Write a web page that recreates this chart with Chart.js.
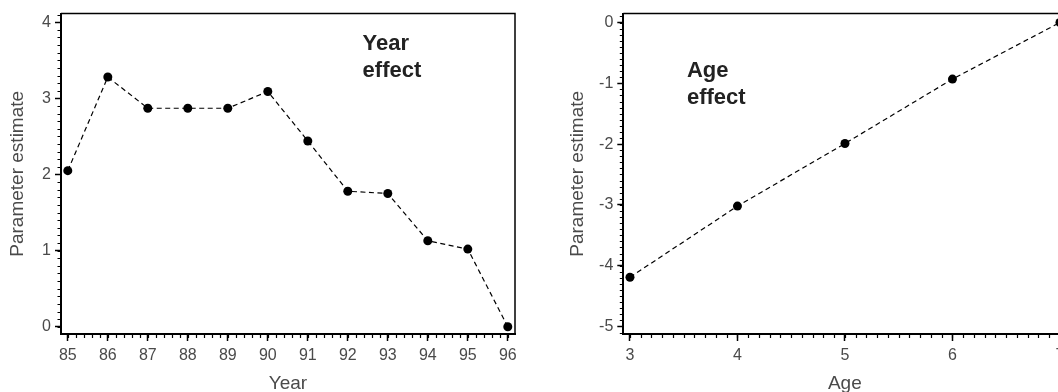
<!DOCTYPE html>
<html>
<head>
<meta charset="utf-8">
<script src="https://cdn.jsdelivr.net/npm/chart.js@4.4.0/dist/chart.umd.min.js"></script>
<style>
  html, body { margin: 0; padding: 0; background: #fff; overflow: hidden; }
  body { width: 1058px; height: 392px; position: relative; }
  #boxYear { position: absolute; left: 0; top: 0; width: 530px; height: 392px; }
  #boxAge { position: absolute; left: 560px; top: 0; width: 520px; height: 392px; }
</style>
</head>
<body>
<div id="boxYear"><canvas id="yearChart"></canvas></div>
<div id="boxAge"><canvas id="ageChart"></canvas></div>
<script>
// year effect panel
const years = [85, 86, 87, 88, 89, 90, 91, 92, 93, 94, 95, 96];
const yearEffect = [2.05, 3.28, 2.87, 2.87, 2.87, 3.09, 2.44, 1.78, 1.75, 1.13, 1.02, 0.0];
const yearTicksY = [0, 1, 2, 3, 4];

// age effect panel
const ages = [3, 4, 5, 6, 7];
const ageEffect = [-4.19, -3.02, -1.99, -0.93, 0.0];
const ageTicksY = [-5, -4, -3, -2, -1, 0];

const FONT = "'Liberation Sans', Helvetica, Arial, sans-serif";
const GREY = '#4a4a4a';

// small ticks between the labelled ones
const minorTicks = {
  id: 'minorTicks',
  afterDraw(chart, args, opts) {
    const ctx = chart.ctx;
    const xs = chart.scales.x, ys = chart.scales.y;
    const area = chart.chartArea;
    ctx.save();
    ctx.strokeStyle = '#000';
    ctx.lineWidth = 1.2;
    ctx.beginPath();
    for (let i = Math.ceil(xs.min / opts.xStep - 1e-6); i * opts.xStep <= xs.max + 1e-6; i++) {
      const px = Math.round(xs.getPixelForValue(i * opts.xStep)) + 0.5;
      ctx.moveTo(px, area.bottom);
      ctx.lineTo(px, area.bottom + 4);
    }
    for (let i = Math.ceil(ys.min / opts.yStep - 1e-6); i * opts.yStep <= ys.max + 1e-6; i++) {
      const py = Math.round(ys.getPixelForValue(i * opts.yStep)) + 0.5;
      ctx.moveTo(area.left, py);
      ctx.lineTo(area.left - 3.5, py);
    }
    ctx.stroke();
    ctx.restore();
  }
};

// box round the plot and the bold label inside it
const frameAndLabel = {
  id: 'frameAndLabel',
  afterDraw(chart, args, opts) {
    const ctx = chart.ctx;
    const a = chart.chartArea;
    ctx.save();
    ctx.strokeStyle = '#000';
    ctx.lineWidth = 1.5;
    ctx.beginPath();
    ctx.moveTo(a.left, a.top);
    ctx.lineTo(a.right, a.top);
    ctx.lineTo(a.right, a.bottom);
    ctx.stroke();
    ctx.fillStyle = '#222';
    ctx.font = 'bold 22px ' + FONT;
    ctx.textAlign = 'left';
    ctx.textBaseline = 'alphabetic';
    const px = chart.scales.x.getPixelForValue(opts.at[0]);
    const py = chart.scales.y.getPixelForValue(opts.at[1]);
    opts.lines.forEach((t, i) => ctx.fillText(t, px, py + i * 27));
    ctx.restore();
  }
};

function buildChart(canvasId, xs, ys, cfg) {
  return new Chart(document.getElementById(canvasId), {
    type: 'line',
    data: {
      datasets: [{
        data: xs.map((x, i) => ({ x: x, y: ys[i] })),
        borderColor: '#000',
        borderWidth: 1.2,
        borderDash: [5, 3.5],
        pointRadius: 4.5,
        pointBackgroundColor: '#000',
        pointBorderWidth: 0,
        tension: 0,
        clip: false
      }]
    },
    options: {
      responsive: true,
      maintainAspectRatio: false,
      animation: false,
      layout: { padding: { top: 11, right: cfg.padRight, left: 0, bottom: 0 } },
      plugins: {
        legend: { display: false },
        tooltip: { enabled: false },
        minorTicks: { xStep: cfg.xMinor, yStep: 0.1 },
        frameAndLabel: { lines: cfg.label, at: cfg.labelAt }
      },
      scales: {
        x: {
          type: 'linear',
          min: cfg.xMin,
          max: cfg.xMax,
          afterFit: s => { s.height = 58; },
          afterBuildTicks: s => { s.ticks = xs.map(v => ({ value: v })); },
          grid: { drawOnChartArea: false, tickLength: 7, tickColor: '#000', tickWidth: 1.5 },
          border: { color: '#000', width: 2 },
          ticks: { color: GREY, font: { family: FONT, size: 16 }, padding: 5, maxRotation: 0, autoSkip: false },
          title: { display: true, text: cfg.xTitle, color: GREY, font: { family: FONT, size: 19 }, padding: { top: 0, bottom: -3 } }
        },
        y: {
          type: 'linear',
          min: cfg.yMin,
          max: cfg.yMax,
          afterFit: s => { s.width = cfg.yWidth; },
          afterBuildTicks: s => { s.ticks = cfg.yTicks.map(v => ({ value: v })); },
          grid: { drawOnChartArea: false, tickLength: 6, tickColor: '#000', tickWidth: 1.5 },
          border: { color: '#000', width: 2 },
          ticks: { color: GREY, font: { family: FONT, size: 16 }, padding: 4, autoSkip: false },
          title: { display: true, text: 'Parameter estimate', color: GREY, font: { family: FONT, size: 19 }, padding: { top: 6, bottom: 0 } }
        }
      }
    },
    plugins: [minorTicks, frameAndLabel]
  });
}

buildChart('yearChart', years, yearEffect, {
  xMin: 84.83, xMax: 96.18, yMin: -0.095, yMax: 4.113,
  xMinor: 0.2, yTicks: yearTicksY, yWidth: 61, padRight: 15,
  xTitle: 'Year', label: ['Year', 'effect'], labelAt: [92.37, 3.63]
});

buildChart('ageChart', ages, ageEffect, {
  xMin: 2.938, xMax: 7.06, yMin: -5.124, yMax: 0.147,
  xMinor: 0.1, yTicks: ageTicksY, yWidth: 63.3, padRight: 13.6,
  xTitle: 'Age', label: ['Age', 'effect'], labelAt: [3.53, -0.9]
});
</script>
</body>
</html>
